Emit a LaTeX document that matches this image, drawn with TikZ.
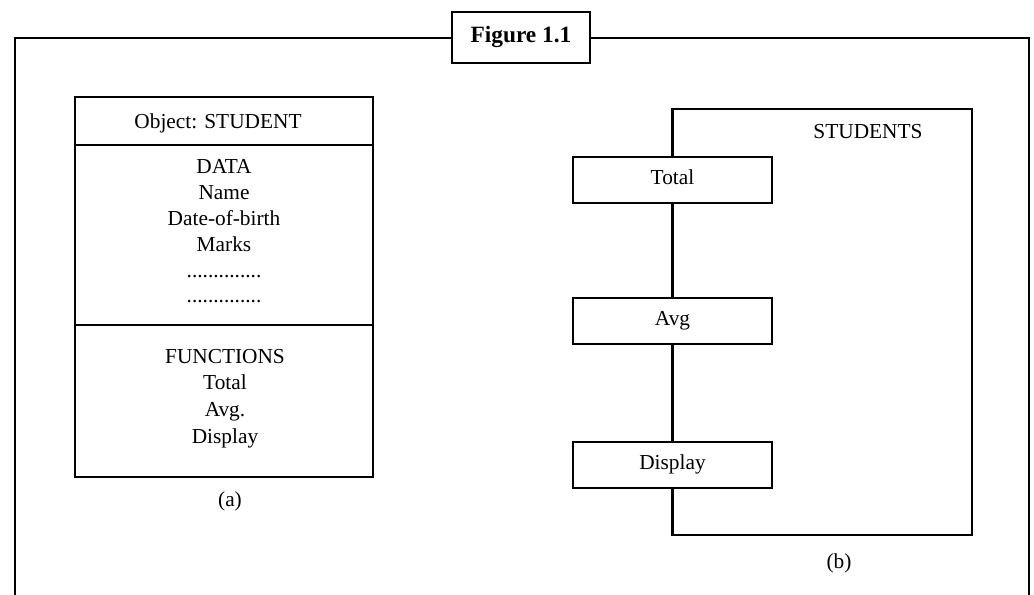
\documentclass[tikz,border=0pt]{standalone}
\usepackage{fontspec}
\setmainfont{Liberation Serif}
\begin{document}
\begin{tikzpicture}[x=0.75pt,y=-0.75pt,line width=1.7pt,font=\fontsize{16}{19}\selectfont]
\tikzset{
  txt/.style={inner sep=0pt,anchor=base},
  fbox/.style={draw,fill=white,minimum width=149.25pt,minimum height=34.5pt,
    text height=0.662em,text depth=0pt,inner sep=0pt},
  figbox/.style={draw,fill=white,minimum width=103.5pt,minimum height=38.25pt,
    font=\fontsize{17.5}{20}\selectfont\bfseries,text height=11.6pt,text depth=4.8pt,inner sep=0pt}
}
\useasboundingbox (0,0) rectangle (1034,595);
% outer frame
\coordinate (fbl) at (15,600);
\coordinate (ftl) at (15,38);
\coordinate (ftr) at (1029,38);
\coordinate (fbr) at (1029,600);
\draw (fbl) -- (ftl) -- (ftr) -- (fbr);
\node[figbox] (fig) at (521,37.5) {Figure 1.1};
% (a) object box
\draw (75,97) rectangle (373,477);
\draw (75,145) -- (373,145);
\draw (75,325) -- (373,325);
\node[txt] (obj) at (218,128.5) {Object: STUDENT};
\node[txt] (data) at (224,173.5) {DATA};
\node[txt] (name) at (224,199.5) {Name};
\node[txt] (dob) at (224,225.5) {Date-of-birth};
\node[txt] (marks) at (224,252) {Marks};
\node[txt] (dots1) at (224,277) {..............};
\node[txt] (dots2) at (224,302) {..............};
\node[txt] (func) at (225,363.5) {FUNCTIONS};
\node[txt] (ftotal) at (225,389.5) {Total};
\node[txt] (favg) at (225,416.5) {Avg.};
\node[txt] (fdisp) at (225,443.5) {Display};
\node[txt] (capa) at (230,506) {(a)};
% (b) students
\coordinate (ctl) at (672.5,109);
\coordinate (ctr) at (972,109);
\coordinate (cbr) at (972,535);
\coordinate (cbl) at (672.5,535);
\node[fbox] (total) at (672.5,180) {Total};
\node[fbox] (avg) at (672.5,321) {Avg};
\node[fbox] (disp) at (672.5,465) {Display};
\draw (total.north) -- (ctl) -- (ctr) -- (cbr) -- (cbl) -- (disp.south);
\draw (total) -- (avg);
\draw (avg) -- (disp);
\node[txt] (stud) at (868,138.5) {STUDENTS};
\node[txt] (capb) at (839,568) {(b)};
\end{tikzpicture}
\end{document}
